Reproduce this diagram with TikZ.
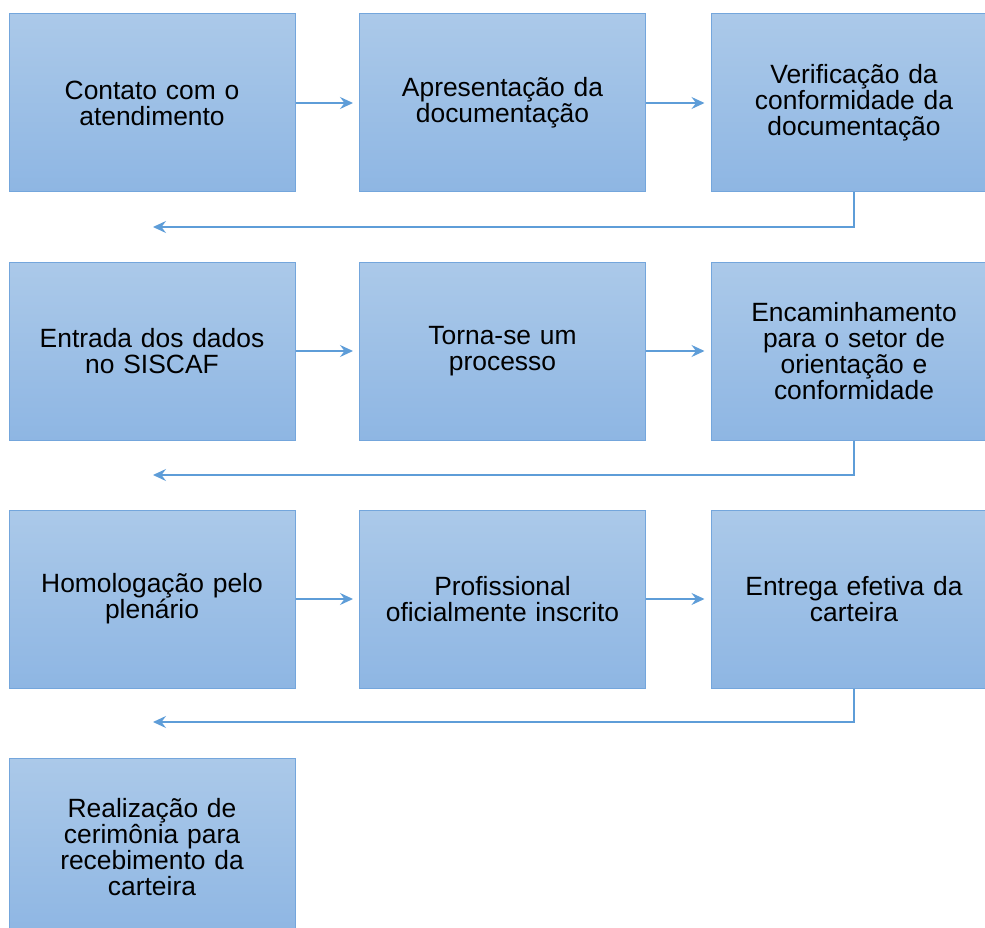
\documentclass[tikz,border=0pt]{standalone}
\usepackage{fontspec}
\setmainfont{Liberation Sans}
\usetikzlibrary{arrows.meta}
\definecolor{boxtop}{HTML}{ABC9E9}
\definecolor{boxbot}{HTML}{8EB6E3}
\definecolor{boxline}{HTML}{74A6DC}
\definecolor{arrcol}{HTML}{5E9DD8}
\tikzset{
  stepbox/.style={rectangle, minimum width=286pt, minimum height=178pt, inner sep=0pt,
    top color=boxtop, bottom color=boxbot, draw=boxline, line width=1pt,
    align=center, text width=260pt,
    font=\fontsize{26.4pt}{26pt}\selectfont},
  flow/.style={draw=arrcol, line width=1.6pt, -{Stealth[length=13pt,width=12pt,inset=4.5pt]}}
}
\begin{document}
\begin{tikzpicture}[x=1pt,y=-1pt]
\useasboundingbox (0,0) rectangle (985,928);
\clip (0,0) rectangle (985,928);
\node[stepbox] (a1) at (152,103) {Contato com o\\atendimento};
\node[stepbox] (a2) at (502.5,103) {Apresentação da\\documentação};
\node[stepbox] (a3) at (854,103) {Verificação da\\conformidade da\\documentação};
\node[stepbox] (b1) at (152,351) {Entrada dos dados\\no SISCAF};
\node[stepbox] (b2) at (502.5,351) {Torna-se um\\processo};
\node[stepbox] (b3) at (854,351) {Encaminhamento\\para o setor de\\orientação e\\conformidade};
\node[stepbox] (c1) at (152,599) {Homologação pelo\\plenário};
\node[stepbox] (c2) at (502.5,599) {Profissional\\oficialmente inscrito};
\node[stepbox] (c3) at (854,599) {Entrega efetiva da\\carteira};
\node[stepbox] (d1) at (152,847) {Realização de\\cerimônia para\\recebimento da\\carteira};
\coordinate (r1) at (153,227);
\coordinate (r2) at (153,475);
\coordinate (r3) at (153,722);
\draw[flow] (a1.east) -- ([xshift=-6pt]a2.west);
\draw[flow] (a2.east) -- ([xshift=-6pt]a3.west);
\draw[flow] (b1.east) -- ([xshift=-6pt]b2.west);
\draw[flow] (b2.east) -- ([xshift=-6pt]b3.west);
\draw[flow] (c1.east) -- ([xshift=-6pt]c2.west);
\draw[flow] (c2.east) -- ([xshift=-6pt]c3.west);
\draw[flow] (a3.south) |- (r1);
\draw[flow] (b3.south) |- (r2);
\draw[flow] (c3.south) |- (r3);
\end{tikzpicture}
\end{document}
